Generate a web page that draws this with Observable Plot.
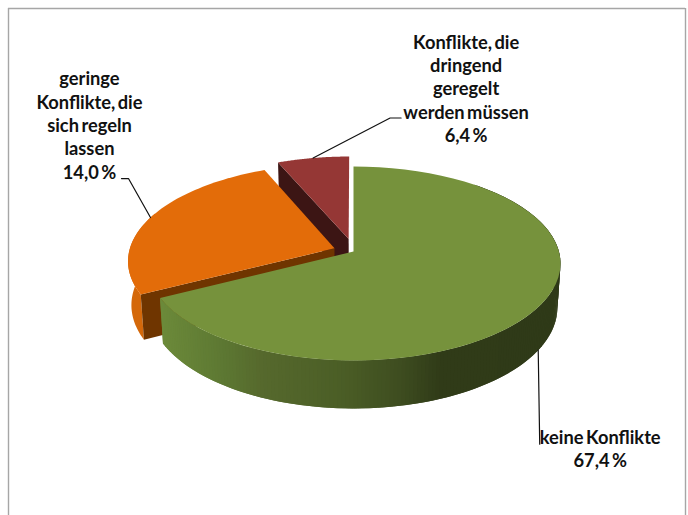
<!DOCTYPE html>
<html><head><meta charset="utf-8">
<script src="https://cdn.jsdelivr.net/npm/d3@7"></script>
<script src="https://cdn.jsdelivr.net/npm/@observablehq/plot@0.6"></script>
<style>html,body{margin:0;padding:0;background:#fff}svg{display:block}</style>
</head><body><div id="chart"></div>
<script>
// Data
const categories = ["keine Konflikte", "geringe Konflikte, die sich regeln lassen", "Konflikte, die dringend geregelt werden müssen"];
const labelLines = ["keine Konflikte\n67,4 %", "geringe\nKonflikte, die\nsich regeln\nlassen\n14,0 %", "Konflikte, die\ndringend\ngeregelt\nwerden müssen\n6,4 %"];
const drawnShare = [67.4, 26.2, 6.4];   // slice sizes as drawn
// Style
const topColors = ["#76923c", "#e36c09", "#953735"];
const rimColors = [null, "#d4680a", null];
const cutColors = [null, "#6f3500", "#3c1514"];
const explode = [[0, 0], [-0.093, -0.033], [-0.024, -0.134]];
const rampStops = [[160, "#6c8a3a"], [225, "#5c7732"], [260, "#56692d"], [340, "#4b5e26"], [400, "#3e4d20"], [440, "#303b18"], [560, "#2f3a18"]];
const leaderSteps = [[[1.5, 94]], [[-22, -39], [-29, -39]], [[77, -40], [88, -40]]];
const labelOffset = [[62, 98], [-61, -93], [153, -70]];
// Perspective disc
const cx = 353, cy = 251, R = 205.4, C = 95.5, k = 0.1237;
const lowDrop = 43.4, lowScale = 0.985, lowC = 99.5;
const project = (u, v, low) => {
  const d = 1 - k * v;
  return low ? [cx + lowScale * R * u / d, cy + lowDrop + lowC * v / d]
             : [cx + R * u / d, cy + C * v / d];
};
const rad = d => d * Math.PI / 180;
const onRim = (deg, i, low) => project(Math.sin(rad(deg)) + explode[i][0], -Math.cos(rad(deg)) + explode[i][1], low);
const apex = (i, low) => project(explode[i][0], explode[i][1], low);
const arc = (a0, a1, i, low) => d3.range(0, 61).map(t => onRim(a0 + (a1 - a0) * t / 60, i, low));

const total = d3.sum(drawnShare);
let acc = 0;
const angles = drawnShare.map(v => { const a = [acc, acc + v / total * 360]; acc = a[1]; return a; });

const ramp = d3.scaleLinear().domain(rampStops.map(d => d[0])).range(rampStops.map(d => d[1])).clamp(true);
const poly = [];
const add = (id, color, pts) => pts.forEach(p => poly.push({id, color, x: p[0], y: p[1]}));

// maroon slice
add("m-cut", cutColors[2], [onRim(angles[2][0], 2), apex(2), apex(2, true), onRim(angles[2][0], 2, true)]);
add("m-top", topColors[2], [apex(2), ...arc(angles[2][0], angles[2][1], 2)]);
// orange slice
add("o-rim", rimColors[1], [...arc(angles[1][0], angles[1][0] + 50, 1), ...arc(angles[1][0] + 50, angles[1][0], 1, true)]);
add("o-cut", cutColors[1], [onRim(angles[1][0], 1), apex(1), apex(1, true), onRim(angles[1][0], 1, true)]);
add("o-top", topColors[1], [apex(1), ...arc(angles[1][0], angles[1][1], 1)]);
// green wall as shaded strips, painted right to left so each overlaps the last
d3.range(40, Math.ceil(angles[0][1])).forEach(a => {
  const b = Math.min(a + 2, angles[0][1]);
  const col = ramp(onRim(Math.min(a + 0.5, angles[0][1]), 0)[0]);
  add("g" + a, col, [onRim(a, 0), onRim(b, 0), onRim(b, 0, true), onRim(a, 0, true)]);
});
add("g-top", topColors[0], [apex(0), ...arc(angles[0][0], angles[0][1], 0)]);

// leaders and labels, hung on the slice mid-angles
const leaders = [], labels = [];
categories.forEach((c, i) => {
  const mid = (angles[i][0] + angles[i][1]) / 2;
  const start = onRim(mid, i, i === 0);
  [[0, 0], ...leaderSteps[i]].forEach(o => leaders.push({c, x: start[0] + o[0], y: start[1] + o[1]}));
  labels.push({text: labelLines[i], x: start[0] + labelOffset[i][0], y: start[1] + labelOffset[i][1]});
});

const plot = Plot.plot({
  width: 688, height: 515, margin: 0,
  x: {domain: [0, 688], range: [0, 688], axis: null},
  y: {domain: [0, 515], range: [0, 515], axis: null},
  color: {type: "identity"},
  style: {background: "#fff", fontFamily: "Lato, Carlito, sans-serif", wordSpacing: "-2px"},
  marks: [
    Plot.ruleX([8, 685], {y1: 8, y2: 515, stroke: "#a6a6a6", strokeWidth: 1.4}),
    Plot.ruleY([8], {x1: 8, x2: 685, stroke: "#a6a6a6", strokeWidth: 1.4}),
    Plot.line(poly, {x: "x", y: "y", z: "id", fill: "color", stroke: "none", curve: "linear"}),
    Plot.line(leaders, {x: "x", y: "y", z: "c", stroke: "#111", strokeWidth: 1.2}),
    Plot.text(labels, {x: "x", y: "y", text: "text", fontSize: 18.3, fontWeight: 700, fill: "#111", lineHeight: 1.275, textAnchor: "middle"})
  ]
});
document.getElementById("chart").appendChild(plot);
</script></body></html>
